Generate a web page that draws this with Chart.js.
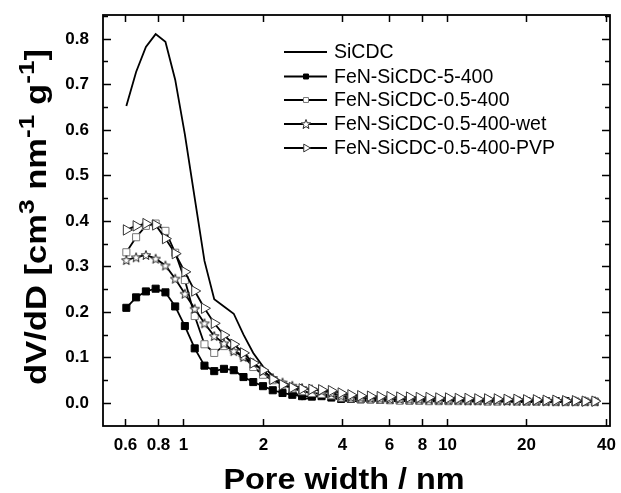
<!DOCTYPE html>
<html>
<head>
<meta charset="utf-8">
<script src="https://cdn.jsdelivr.net/npm/chart.js@4.4.1/dist/chart.umd.min.js"></script>
<style>
  body { margin: 0; background: #fff; }
  #wrap { width: 621px; height: 493px; }
</style>
</head>
<body>
<div id="wrap"><canvas id="psd" width="621" height="493"></canvas></div>
<script>
// pore width (nm), shared by every curve
const poreWidth = [0.607, 0.661, 0.720, 0.784, 0.854, 0.930, 1.012, 1.103, 1.201, 1.308,
  1.424, 1.551, 1.689, 1.839, 2.003, 2.181, 2.375, 2.587, 2.817, 3.068,
  3.341, 3.638, 3.962, 4.315, 4.699, 5.117, 5.573, 6.069, 6.609, 7.197,
  7.838, 8.535, 9.295, 10.12, 11.02, 12.00, 13.07, 14.24, 15.50, 16.88,
  18.39, 20.02, 21.81, 23.75, 25.86, 28.16, 30.67, 33.40, 36.37];

const sicdc = [0.652, 0.727, 0.782, 0.810, 0.793, 0.710, 0.590, 0.450, 0.312, 0.228,
  0.212, 0.196, 0.150, 0.110, 0.080, 0.060, 0.044, 0.030, 0.008, 0.012,
  0.018, 0.014, 0.005, 0.004, 0.004, 0.005, 0.005, 0.004, 0.004, 0.004,
  0.003, 0.003, 0.004, 0.004, 0.003, 0.003, 0.003, 0.003, 0.003, 0.003,
  0.002, 0.002, 0.002, 0.002, 0.002, 0.002, 0.002, 0.002, 0.002];

const fen5 = [0.209, 0.232, 0.245, 0.251, 0.243, 0.212, 0.169, 0.120, 0.082, 0.070,
  0.075, 0.072, 0.057, 0.046, 0.037, 0.028, 0.022, 0.018, 0.015, 0.014,
  0.015, 0.012, 0.009, 0.009, 0.008, 0.008, 0.007, 0.007, 0.007, 0.006,
  0.006, 0.006, 0.006, 0.006, 0.006, 0.005, 0.005, 0.005, 0.005, 0.005,
  0.005, 0.004, 0.004, 0.004, 0.004, 0.004, 0.003, 0.003, 0.003];

const fen05 = [0.331, 0.364, 0.389, 0.394, 0.378, 0.330, 0.270, 0.191, 0.129, 0.110,
  0.125, 0.116, 0.103, 0.079, 0.062, 0.050, 0.040, 0.032, 0.026, 0.022,
  0.020, 0.017, 0.012, 0.010, 0.009, 0.008, 0.007, 0.006, 0.005, 0.005,
  0.005, 0.004, 0.004, 0.004, 0.004, 0.004, 0.004, 0.003, 0.003, 0.004,
  0.003, 0.003, 0.003, 0.003, 0.002, 0.002, 0.002, 0.002, 0.002];

const fen05wet = [0.314, 0.320, 0.325, 0.317, 0.302, 0.273, 0.240, 0.207, 0.175, 0.147,
  0.131, 0.114, 0.101, 0.088, 0.070, 0.055, 0.045, 0.038, 0.033, 0.030,
  0.027, 0.022, 0.016, 0.013, 0.012, 0.011, 0.010, 0.009, 0.009, 0.008,
  0.008, 0.008, 0.007, 0.007, 0.007, 0.006, 0.006, 0.006, 0.006, 0.005,
  0.005, 0.005, 0.005, 0.004, 0.004, 0.004, 0.004, 0.004, 0.004];

const fen05pvp = [0.380, 0.389, 0.394, 0.391, 0.361, 0.328, 0.288, 0.246, 0.208, 0.175,
  0.149, 0.129, 0.110, 0.088, 0.072, 0.052, 0.040, 0.034, 0.031, 0.030,
  0.029, 0.027, 0.022, 0.018, 0.016, 0.015, 0.014, 0.014, 0.013, 0.013,
  0.012, 0.012, 0.011, 0.011, 0.010, 0.010, 0.009, 0.009, 0.009, 0.008,
  0.008, 0.007, 0.007, 0.006, 0.006, 0.005, 0.005, 0.004, 0.004];

const seriesNames = ['SiCDC', 'FeN-SiCDC-5-400', 'FeN-SiCDC-0.5-400', 'FeN-SiCDC-0.5-400-wet', 'FeN-SiCDC-0.5-400-PVP'];
const xTicks = [0.6, 0.8, 1, 2, 4, 6, 8, 10, 20, 40];
const yTicks = [0.0, 0.1, 0.2, 0.3, 0.4, 0.5, 0.6, 0.7, 0.8];

// open five point star used as a point style
function makeStar(size) {
  const c = document.createElement('canvas');
  c.width = size; c.height = size;
  const g = c.getContext('2d');
  const cx = size / 2, cy = size / 2 + 0.5, R = size / 2 - 1, r = R * 0.42;
  g.beginPath();
  for (let i = 0; i < 10; i++) {
    const a = -Math.PI / 2 + i * Math.PI / 5;
    const rr = i % 2 === 0 ? R : r;
    g.lineTo(cx + rr * Math.cos(a), cy + rr * Math.sin(a));
  }
  g.closePath();
  g.fillStyle = '#fff';
  g.fill();
  g.strokeStyle = '#222';
  g.lineWidth = 1;
  g.stroke();
  return c;
}
const starImg = makeStar(12);

const styles = [
  { pointStyle: false, radius: 0 },
  { pointStyle: 'rect', radius: 5, bg: '#000', border: '#000' },
  { pointStyle: 'rect', radius: 5, bg: '#fff', border: '#777' },
  { pointStyle: starImg, radius: 6, bg: '#fff', border: '#222' },
  { pointStyle: 'triangle', radius: 6, rotation: 90, bg: '#fff', border: '#333' }
];

const allData = [sicdc, fen5, fen05, fen05wet, fen05pvp];

const datasets = allData.map((vals, i) => ({
  label: seriesNames[i],
  data: vals.map((v, j) => ({ x: poreWidth[j], y: v })),
  borderColor: '#000',
  borderWidth: 1.8,
  pointStyle: styles[i].pointStyle,
  pointRadius: styles[i].radius,
  pointRotation: styles[i].rotation || 0,
  pointBackgroundColor: styles[i].bg,
  pointBorderColor: styles[i].border,
  pointBorderWidth: 1,
  tension: 0,
  order: 5 - i
}));

const FONT = '"Liberation Sans", Arial, sans-serif';

const framePlugin = {
  id: 'frame',
  afterDraw(chart) {
    const { ctx, chartArea: a, scales: { x, y } } = chart;
    ctx.save();
    ctx.strokeStyle = '#000';
    ctx.fillStyle = '#000';
    ctx.lineWidth = 1.8;
    ctx.strokeRect(a.left, a.top, a.right - a.left, a.bottom - a.top);

    // x ticks, pointing inward on bottom and top
    ctx.lineWidth = 1.5;
    ctx.font = 'bold 17px ' + FONT;
    ctx.textAlign = 'center';
    ctx.textBaseline = 'top';
    xTicks.forEach(v => {
      const px = Math.round(x.getPixelForValue(v)) + 0.5;
      ctx.beginPath();
      ctx.moveTo(px, a.bottom); ctx.lineTo(px, a.bottom - 7);
      ctx.moveTo(px, a.top); ctx.lineTo(px, a.top + 7);
      ctx.stroke();
      ctx.fillText(String(v), px, a.bottom + 11);
    });

    // y ticks: majors with labels, minors halfway
    ctx.textAlign = 'right';
    ctx.textBaseline = 'middle';
    yTicks.forEach(v => {
      const py = Math.round(y.getPixelForValue(v)) + 0.5;
      ctx.beginPath();
      ctx.moveTo(a.left, py); ctx.lineTo(a.left + 8, py);
      ctx.moveTo(a.right, py); ctx.lineTo(a.right - 8, py);
      ctx.stroke();
      ctx.fillText(v.toFixed(1), a.left - 14, py);
      const pm = Math.round(y.getPixelForValue(v + 0.05)) + 0.5;
      ctx.beginPath();
      ctx.moveTo(a.left, pm); ctx.lineTo(a.left + 5, pm);
      ctx.moveTo(a.right, pm); ctx.lineTo(a.right - 5, pm);
      ctx.stroke();
    });

    // x title, slightly widened like the source lettering
    ctx.save();
    ctx.textAlign = 'center';
    ctx.textBaseline = 'alphabetic';
    ctx.font = 'bold 30px ' + FONT;
    ctx.translate(344, 489);
    ctx.scale(1.08, 1);
    ctx.fillText('Pore width / nm', 0, 0);
    ctx.restore();

    // y title with superscripts, stretched along its length
    const parts = [['dV/dD [cm', 0], ['3', 1], [' nm', 0], ['-1', 1], [' g', 0], ['-1', 1], [']', 0]];
    const big = 'bold 29px ' + FONT, small = 'bold 22px ' + FONT;
    let total = 0;
    parts.forEach(p => { ctx.font = p[1] ? small : big; total += ctx.measureText(p[0]).width; });
    ctx.textBaseline = 'alphabetic';
    ctx.translate(46, 217);
    ctx.rotate(-Math.PI / 2);
    ctx.scale(336 / total, 1);
    ctx.textAlign = 'left';
    let cx = -total / 2;
    parts.forEach(p => {
      ctx.font = p[1] ? small : big;
      ctx.fillText(p[0], cx, p[1] ? -12 : 0);
      cx += ctx.measureText(p[0]).width;
    });
    ctx.restore();

    // legend: short line with marker, then name
    ctx.save();
    ctx.font = '19.5px ' + FONT;
    ctx.textBaseline = 'middle';
    ctx.textAlign = 'left';
    const rowY = [52, 76.5, 100, 124, 148];
    seriesNames.forEach((name, i) => {
      const ry = rowY[i];
      ctx.strokeStyle = '#000';
      ctx.lineWidth = 1.8;
      ctx.beginPath();
      ctx.moveTo(284, ry); ctx.lineTo(327, ry);
      ctx.stroke();
      const st = styles[i];
      if (st.pointStyle) {
        ctx.fillStyle = st.bg;
        ctx.strokeStyle = st.border;
        ctx.lineWidth = 1;
        Chart.helpers.drawPoint(ctx, {
          pointStyle: st.pointStyle, radius: st.radius - 1.5,
          rotation: st.rotation || 0, borderWidth: 1
        }, 306, ry);
      }
      ctx.fillStyle = '#000';
      ctx.fillText(name, 334, ry + 1);
    });
    ctx.restore();
  }
};

new Chart(document.getElementById('psd'), {
  type: 'line',
  data: { datasets },
  options: {
    responsive: false,
    devicePixelRatio: 1,
    animation: false,
    layout: { padding: { left: 103, top: 15, right: 11, bottom: 67 } },
    scales: {
      x: { type: 'logarithmic', min: 0.495, max: 41.5, display: false },
      y: { type: 'linear', min: -0.0505, max: 0.852, display: false }
    },
    plugins: {
      legend: { display: false },
      tooltip: { enabled: false }
    }
  },
  plugins: [framePlugin]
});
</script>
</body>
</html>
